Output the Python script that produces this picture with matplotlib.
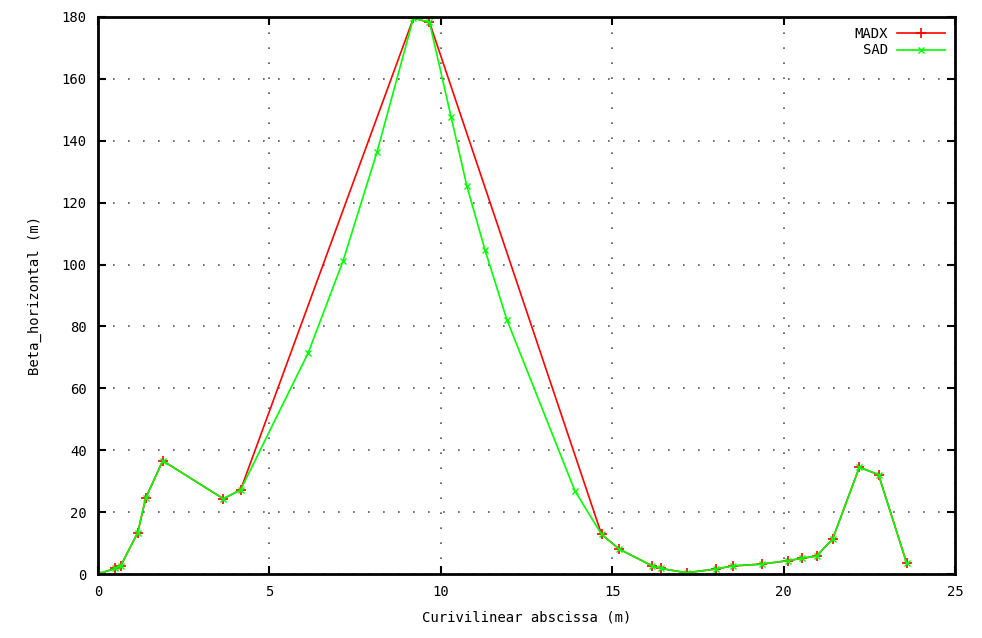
import matplotlib
matplotlib.use("Agg")
import matplotlib.pyplot as plt

# MADX data
madx_s = [0.0, 0.5, 0.66, 1.16, 1.39, 1.89, 3.66, 4.16, 9.2, 9.67, 14.69, 15.2,
          16.17, 16.42, 17.17, 18.02, 18.51, 19.36, 20.12, 20.55, 20.96, 21.43,
          22.21, 22.77, 23.59]
madx_b = [0.0, 1.8, 2.6, 13.4, 24.5, 36.6, 24.3, 27.2, 179.6, 178.3, 12.8, 8.1,
          2.6, 1.8, 0.4, 1.6, 2.6, 3.2, 4.3, 5.1, 5.8, 11.3,
          34.5, 32.1, 3.5]

# SAD data
sad_s = [0.0, 0.5, 0.66, 1.16, 1.39, 1.89, 3.66, 4.16, 6.13, 7.15, 8.14, 9.2,
         9.67, 10.3, 10.76, 11.29, 11.93, 13.91, 14.69, 15.2, 16.17, 16.42,
         17.17, 18.02, 18.51, 19.36, 20.12, 20.55, 20.96, 21.43, 22.21, 22.77, 23.59]
sad_b = [0.0, 1.8, 2.6, 13.4, 24.5, 36.6, 24.3, 27.2, 71.4, 101.2, 136.4, 179.6,
         178.3, 147.7, 125.4, 104.7, 82.1, 26.9, 12.8, 8.1, 2.6, 1.8,
         0.4, 1.6, 2.6, 3.2, 4.3, 5.1, 5.8, 11.3, 34.5, 32.1, 3.5]

xticks = [0, 5, 10, 15, 20, 25]
yticks = [0, 20, 40, 60, 80, 100, 120, 140, 160, 180]

plt.rcParams['font.family'] = ['DejaVu Sans Mono']
fig = plt.figure(figsize=(9.82, 6.38), dpi=100)
ax = fig.add_axes([0.0998, 0.1003, 0.8727, 0.8731])

ax.plot(madx_s, madx_b, color='#ff0000', lw=1.2, marker='+', ms=7, mew=1.2, label='MADX')
ax.plot(sad_s, sad_b, color='#00ff00', lw=1.2, marker='x', ms=5, mew=1.0, label='SAD')

ax.set_xlim(0, 25)
ax.set_ylim(0, 180)
ax.set_xticks(xticks)
ax.set_yticks(yticks)
ax.tick_params(direction='in', top=True, right=True, length=6, width=1.5, labelsize=10, pad=8)
for sp in ax.spines.values():
    sp.set_linewidth(2)
    sp.set_color('black')
ax.grid(True, color='#555555', linestyle=(0, (1, 8)), linewidth=1.2)

ax.set_xlabel('Curivilinear abscissa (m)', fontsize=10, labelpad=8)
ax.set_ylabel('Beta_horizontal (m)', fontsize=10, labelpad=14)

leg = ax.legend(loc='upper right', frameon=False, markerfirst=False, fontsize=10,
                handlelength=3.5, borderaxespad=0.3, labelspacing=0.2, handletextpad=0.6)

fig.savefig('out.png', dpi=100)
